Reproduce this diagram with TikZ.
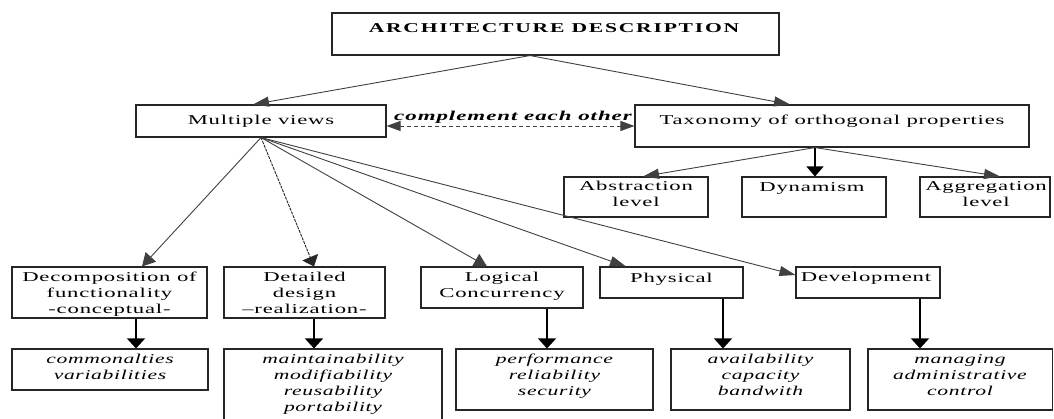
\documentclass[tikz,border=0pt]{standalone}
\usepackage{fontspec}
\setmainfont{Liberation Serif}
\newfontfamily\rmf[FakeStretch=1.68,LetterSpace=6]{Liberation Serif}
\newfontfamily\itf[FakeStretch=1.6,LetterSpace=5]{Liberation Serif}
\newfontfamily\cmf[FakeStretch=1.7,LetterSpace=7]{Liberation Serif}
\newfontfamily\adf[FakeStretch=1.6,LetterSpace=13]{Liberation Serif}
\usetikzlibrary{arrows.meta,fit}
\begin{document}
\begin{tikzpicture}[x=1pt,y=-1pt,
  box/.style={draw=black!85, line width=1.1pt, inner sep=0pt},
  txt/.style={inner sep=0pt, align=center, anchor=base,
    font=\rmf\fontsize{13.5}{16}\selectfont},
  itx/.style={txt, font=\itf\itshape\fontsize{13.5}{16}\selectfont},
  con/.style={draw=black!75, line width=0.9pt},
  vcon/.style={draw=black, line width=1.3pt, -{Triangle[length=10pt,width=18pt]}},
  tipv/.style={-{Triangle[length=10pt,width=17pt]}},
  tipm/.style={-{Triangle[length=13pt,width=14pt]}},
  tips/.style={-{Triangle[length=16pt,width=10pt]}},
]
\useasboundingbox (0,0) rectangle (1054,418);
\fill[white] (0,0) rectangle (1054,418);

% boxes
\node[box, fit={(332,13) (779,55)}] (ad) {};
\node[box, fit={(136,105) (386,137)}] (mv) {};
\node[box, fit={(635,105) (1029,147)}] (tax) {};
\node[box, fit={(564,177) (708,217)}] (abs) {};
\node[box, fit={(742,177) (886,217)}] (dyn) {};
\node[box, fit={(920,177) (1050,217)}] (agg) {};
\node[box, fit={(12,267) (207,318)}] (dec) {};
\node[box, fit={(224,267) (385,318)}] (det) {};
\node[box, fit={(421,267) (583,308)}] (log) {};
\node[box, fit={(600,267) (743,298)}] (phy) {};
\node[box, fit={(796,267) (940,298)}] (dev) {};
\node[box, fit={(12,349) (208,390)}] (com) {};
\node[box, fit={(224,349) (442,430)}] (mai) {};
\node[box, fit={(456,349) (653,410)}] (per) {};
\node[box, fit={(671,349) (850,410)}] (ava) {};
\node[box, fit={(868,349) (1052.5,410)}] (man) {};

% texts (anchor=base is the baseline of the last line)
\node[txt, font=\adf\bfseries\fontsize{13.5}{16}\selectfont] (ad-t) at (554,32.5) {ARCHITECTURE DESCRIPTION};
\node[txt] (mv-t) at (261,124.5) {Multiple views};
\node[txt] (tax-t) at (832,124.5) {Taxonomy of orthogonal properties};
\node[txt] (abs-t) at (636,206.5) {Abstraction\\level};
\node[txt] (dyn-t) at (812,191) {Dynamism};
\node[txt] (agg-t) at (986,206.5) {Aggregation\\level};
\node[txt] (dec-t) at (109.5,313) {Decomposition of\\functionality\\-conceptual-};
\node[txt] (det-t) at (304.5,313) {Detailed\\design\\–realization-};
\node[txt] (log-t) at (502,297.5) {Logical\\Concurrency};
\node[txt] (phy-t) at (671.5,282.5) {Physical};
\node[txt] (dev-t) at (866,281.5) {Development};
\node[itx] (com-t) at (110,379.5) {commonalties\\variabilities};
\node[itx] (mai-t) at (333,411.5) {maintainability\\modifiability\\reusability\\portability};
\node[itx] (per-t) at (554.5,395.5) {performance\\reliability\\security};
\node[itx] (ava-t) at (760.5,395.5) {availability\\capacity\\bandwith};
\node[itx] (man-t) at (960,395.5) {managing\\administrative\\control};
\node[itx, font=\cmf\itshape\bfseries\fontsize{13.5}{16}\selectfont] (cmp-t) at (513,120.5) {complement each other};

% connectors
\draw[con, tips] ([xshift=-25.5pt]ad.south) -- ([xshift=-8pt]mv.north);
\draw[con, tips] ([xshift=-25.5pt]ad.south) -- ([xshift=-42pt]tax.north);
\draw[con, dashed, dash pattern=on 4pt off 3pt, {Triangle[length=14pt,width=10pt]}-{Triangle[length=14pt,width=10pt]}]
  (tax.west -| mv.east) -- (tax.west);

\draw[con, tips] ([xshift=-17pt]tax.south) -- ([xshift=7pt]abs.north);
\draw[con, line width=1.2pt, draw=black, tipv] ([xshift=-17pt]tax.south) -- ([xshift=-17pt]tax.south |- dyn.north);
\draw[con, tips] ([xshift=-17pt]tax.south) -- ([xshift=15pt]agg.north);

\draw[con, tipm] (mv.south) -- ([xshift=32.5pt]dec.north);
\draw[con, draw=black!85, dash pattern=on 3pt off 1pt, tipv] (mv.south) -- ([xshift=9.5pt]det.north);
\draw[con, tipm] (mv.south) -- ([xshift=-15pt]log.north);
\draw[con, tips] (mv.south) -- ([xshift=-45.5pt]phy.north);
\draw[con, tips] (mv.south) -- ([yshift=7.5pt]dev.west);

\draw[vcon] ([xshift=26.5pt]dec.south) -- ([xshift=26.5pt]dec.south |- com.north);
\draw[vcon] ([xshift=9.5pt]det.south) -- ([xshift=9.5pt]det.south |- mai.north);
\draw[vcon] ([xshift=45pt]log.south) -- ([xshift=45pt]log.south |- per.north);
\draw[vcon] ([xshift=51.5pt]phy.south) -- ([xshift=51.5pt]phy.south |- ava.north);
\draw[vcon] ([xshift=52pt]dev.south) -- ([xshift=52pt]dev.south |- man.north);
\end{tikzpicture}
\end{document}
